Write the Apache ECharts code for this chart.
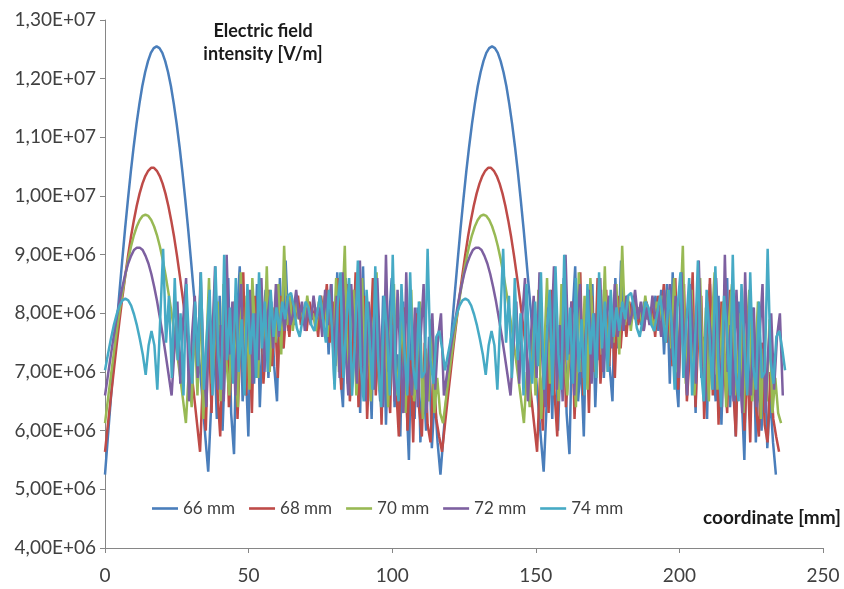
<!DOCTYPE html>
<html>
<head>
<meta charset="utf-8">
<script src="https://cdn.jsdelivr.net/npm/echarts@6/dist/echarts.min.js"></script>
<style>
html,body{margin:0;padding:0;background:#fff;}
#chart{width:844px;height:589px;}
</style>
</head>
<body>
<div id="chart"></div>
<script>
// Values in units of 1e6 V/m, sampled evenly (~1 mm) from 0 to each series' last coordinate
const seriesNames = ['66 mm', '68 mm', '70 mm', '72 mm', '74 mm'];
const lastCoordinate = [233.6, 234.7, 235.4, 236.0, 236.8];

const e66 = [
5.25,5.89,6.52,7.14,7.75,8.34,8.90,9.44,9.94,10.41,10.84,11.23,11.57,11.87,12.11,12.30,12.44,12.52,12.55,12.52,12.44,12.30,12.11,11.87,11.57,11.23,10.84,10.41,9.94,9.44,8.90,8.34,7.75,7.14,6.52,5.89,5.30,
6.4,7.6,6.2,8.3,6.0,7.4,8.6,6.3,5.6,7.9,8.8,6.5,7.2,5.9,8.1,6.8,8.5,6.4,7.7,8.4,6.9,8.2,7.1,6.5,8.6,7.4,
8.9,7.7,8.3,7.8,8.2,7.9,8.1,7.8,8.2,7.9,8.0,7.8,8.3,7.7,8.4,7.3,8.5,
6.8,8.7,7.0,6.4,8.6,7.5,6.6,8.4,7.9,6.3,8.8,6.9,7.6,6.2,8.5,7.2,6.5,8.3,6.1,7.8,8.6,6.4,7.3,5.9,8.2,6.7,5.5,7.9,6.2,8.1,5.8,7.0,6.0,7.6,5.7,6.6,5.8,
5.25,5.89,6.52,7.14,7.75,8.34,8.90,9.44,9.94,10.41,10.84,11.23,11.57,11.87,12.11,12.30,12.44,12.52,12.55,12.52,12.44,12.30,12.11,11.87,11.57,11.23,10.84,10.41,9.94,9.44,8.90,8.34,7.75,7.14,6.52,5.89,5.30,
6.4,7.6,6.2,8.3,6.0,7.4,8.6,6.3,5.6,7.9,8.8,6.5,7.2,5.9,8.1,6.8,8.5,6.4,7.7,8.4,6.9,8.2,7.1,6.5,8.6,7.4,
8.9,7.7,8.3,7.8,8.2,7.9,8.1,7.8,8.2,7.9,8.0,7.8,8.3,7.7,8.4,7.3,8.5,
6.8,8.7,7.0,6.4,8.6,7.5,6.6,8.4,7.9,6.3,8.8,6.9,7.6,6.2,8.5,7.2,6.5,8.3,6.1,7.8,8.6,6.4,7.3,5.9,8.2,6.7,5.5,7.9,6.2,8.1,5.8,7.0,6.0,7.6,5.7,6.6,5.8,
5.25
];

const e68 = [
5.64,6.10,6.56,7.00,7.44,7.86,8.26,8.63,8.98,9.30,9.58,9.83,10.04,10.21,10.34,10.43,10.48,10.48,10.43,10.34,10.21,10.04,9.83,9.58,9.30,8.98,8.63,8.26,7.86,7.44,7.00,6.56,6.10,5.64,
6.9,6.0,7.8,6.3,8.4,6.7,5.9,7.7,8.5,6.4,7.1,8.2,6.2,7.5,8.7,6.6,7.9,6.3,8.3,7.0,8.6,6.8,7.6,8.4,7.1,8.0,6.9,8.3,7.4,
8.1,7.6,8.2,7.9,8.3,7.8,8.0,7.7,8.2,7.9,8.1,7.6,8.3,7.9,8.5,7.5,8.2,
7.1,8.6,6.7,7.8,8.5,6.5,7.3,8.7,6.4,7.7,8.3,6.2,7.4,8.6,6.6,7.9,6.1,8.2,7.0,6.3,8.4,6.8,5.9,7.6,8.1,6.0,7.2,5.8,8.0,6.4,5.9,7.5,6.1,5.8,7.0,6.2,5.9,
5.64,6.10,6.56,7.00,7.44,7.86,8.26,8.63,8.98,9.30,9.58,9.83,10.04,10.21,10.34,10.43,10.48,10.48,10.43,10.34,10.21,10.04,9.83,9.58,9.30,8.98,8.63,8.26,7.86,7.44,7.00,6.56,6.10,5.64,
6.9,6.0,7.8,6.3,8.4,6.7,5.9,7.7,8.5,6.4,7.1,8.2,6.2,7.5,8.7,6.6,7.9,6.3,8.3,7.0,8.6,6.8,7.6,8.4,7.1,8.0,6.9,8.3,7.4,
8.1,7.6,8.2,7.9,8.3,7.8,8.0,7.7,8.2,7.9,8.1,7.6,8.3,7.9,8.5,7.5,8.2,
7.1,8.6,6.7,7.8,8.5,6.5,7.3,8.7,6.4,7.7,8.3,6.2,7.4,8.6,6.6,7.9,6.1,8.2,7.0,6.3,8.4,6.8,5.9,7.6,8.1,6.0,7.2,5.8,8.0,6.4,5.9,7.5,6.1,5.8,7.0,6.2,5.9,
5.64
];

const e70 = [
6.13,6.53,6.92,7.30,7.67,8.02,8.34,8.64,8.91,9.14,9.33,9.48,9.59,9.66,9.68,9.66,9.59,9.48,9.33,9.14,8.91,8.64,8.34,8.02,7.67,7.30,6.92,6.53,6.13,
7.0,6.4,7.9,6.6,8.4,6.2,7.3,8.6,6.8,7.5,8.2,6.5,8.5,7.2,6.6,8.0,7.4,6.4,8.7,7.0,8.3,6.7,8.6,7.6,6.9,8.4,7.3,8.8,7.0,8.1,7.5,8.5,7.3,9.15,
7.8,8.3,7.7,8.2,7.9,8.1,7.8,8.3,7.9,8.0,7.7,8.2,7.9,8.3,7.6,8.4,7.4,
8.6,7.0,7.9,9.15,6.8,7.7,8.4,6.6,7.5,8.6,6.9,8.1,6.5,7.8,8.7,6.7,7.3,8.2,6.4,7.9,8.5,6.6,7.2,8.0,6.3,7.6,8.4,6.5,7.1,8.2,6.2,7.4,6.5,7.9,6.3,6.9,6.3,
6.13,6.53,6.92,7.30,7.67,8.02,8.34,8.64,8.91,9.14,9.33,9.48,9.59,9.66,9.68,9.66,9.59,9.48,9.33,9.14,8.91,8.64,8.34,8.02,7.67,7.30,6.92,6.53,6.13,
7.0,6.4,7.9,6.6,8.4,6.2,7.3,8.6,6.8,7.5,8.2,6.5,8.5,7.2,6.6,8.0,7.4,6.4,8.7,7.0,8.3,6.7,8.6,7.6,6.9,8.4,7.3,8.8,7.0,8.1,7.5,8.5,7.3,9.15,
7.8,8.3,7.7,8.2,7.9,8.1,7.8,8.3,7.9,8.0,7.7,8.2,7.9,8.3,7.6,8.4,7.4,
8.6,7.0,7.9,9.15,6.8,7.7,8.4,6.6,7.5,8.6,6.9,8.1,6.5,7.8,8.7,6.7,7.3,8.2,6.4,7.9,8.5,6.6,7.2,8.0,6.3,7.6,8.4,6.5,7.1,8.2,6.2,7.4,6.5,7.9,6.3,6.9,6.3,
6.13
];

const e72 = [
6.60,6.94,7.28,7.61,7.91,8.20,8.45,8.67,8.85,8.98,9.08,9.12,9.12,9.08,8.98,8.85,8.67,8.45,8.20,7.91,7.61,7.28,6.94,6.60,
7.4,8.2,6.8,7.9,8.6,6.5,7.6,8.3,6.9,8.7,7.2,6.4,8.1,7.5,8.8,6.7,7.8,6.5,9.0,7.3,8.2,6.6,7.9,8.5,6.9,7.7,8.4,6.8,8.0,7.2,8.6,7.0,7.9,8.3,7.4,8.5,7.6,8.1,7.7,
8.3,7.8,8.0,8.4,7.9,8.2,7.7,8.1,7.8,8.3,7.9,8.1,7.6,8.4,7.8,8.5,7.2,
8.3,6.9,8.7,7.4,6.6,8.5,7.6,6.8,8.9,7.1,6.5,8.2,7.7,6.7,8.6,7.3,6.4,9.0,7.0,7.8,6.5,8.4,7.2,6.3,8.7,7.0,6.6,8.1,6.4,7.6,8.5,6.3,7.4,8.0,6.7,7.6,8.0,
6.60,6.94,7.28,7.61,7.91,8.20,8.45,8.67,8.85,8.98,9.08,9.12,9.12,9.08,8.98,8.85,8.67,8.45,8.20,7.91,7.61,7.28,6.94,6.60,
7.4,8.2,6.8,7.9,8.6,6.5,7.6,8.3,6.9,8.7,7.2,6.4,8.1,7.5,8.8,6.7,7.8,6.5,9.0,7.3,8.2,6.6,7.9,8.5,6.9,7.7,8.4,6.8,8.0,7.2,8.6,7.0,7.9,8.3,7.4,8.5,7.6,8.1,7.7,
8.3,7.8,8.0,8.4,7.9,8.2,7.7,8.1,7.8,8.3,7.9,8.1,7.6,8.4,7.8,8.5,7.2,
8.3,6.9,8.7,7.4,6.6,8.5,7.6,6.8,8.9,7.1,6.5,8.2,7.7,6.7,8.6,7.3,6.4,9.0,7.0,7.8,6.5,8.4,7.2,6.3,8.7,7.0,6.6,8.1,6.4,7.6,8.5,6.3,7.4,8.0,6.7,7.6,8.0,
6.60
];

const e74 = [
7.03,7.30,7.56,7.79,7.98,8.13,8.22,8.25,8.22,8.13,7.98,7.79,7.56,7.30,6.95,
7.45,7.70,7.45,6.70,7.90,9.10,7.50,8.30,6.90,8.60,7.20,8.00,6.60,8.50,7.40,6.80,8.20,7.10,8.70,6.70,7.60,8.40,6.60,8.80,7.30,6.70,9.00,7.20,8.10,6.80,8.60,7.00,7.90,6.60,8.50,7.30,8.00,6.90,8.70,7.40,8.20,7.00,8.40,7.60,8.10,7.70,8.20,7.90,
8.30,8.35,8.10,7.75,7.60,7.90,8.20,8.10,7.80,7.70,8.00,8.30,7.90,7.50,8.40,7.80,6.70,
8.1,8.7,6.9,7.8,8.6,6.6,7.5,8.9,7.1,6.5,8.4,7.6,6.7,8.8,7.2,6.4,8.3,7.7,6.6,9.0,7.0,6.5,8.5,7.4,6.6,8.7,7.1,6.7,8.2,6.9,7.0,9.1,7.2,6.8,7.6,7.7,7.4,
7.03,7.30,7.56,7.79,7.98,8.13,8.22,8.25,8.22,8.13,7.98,7.79,7.56,7.30,6.95,
7.45,7.70,7.45,6.70,7.90,9.10,7.50,8.30,6.90,8.60,7.20,8.00,6.60,8.50,7.40,6.80,8.20,7.10,8.70,6.70,7.60,8.40,6.60,8.80,7.30,6.70,9.00,7.20,8.10,6.80,8.60,7.00,7.90,6.60,8.50,7.30,8.00,6.90,8.70,7.40,8.20,7.00,8.40,7.60,8.10,7.70,8.20,7.90,
8.30,8.35,8.10,7.75,7.60,7.90,8.20,8.10,7.80,7.70,8.00,8.30,7.90,7.50,8.40,7.80,6.70,
8.1,8.7,6.9,7.8,8.6,6.6,7.5,8.9,7.1,6.5,8.4,7.6,6.7,8.8,7.2,6.4,8.3,7.7,6.6,9.0,7.0,6.5,8.5,7.4,6.6,8.7,7.1,6.7,8.2,6.9,7.0,9.1,7.2,6.8,7.6,7.7,7.4,
7.03
];

const xTicks = [0, 50, 100, 150, 200, 250];
const yTicks = [4, 5, 6, 7, 8, 9, 10, 11, 12, 13];
const seriesValues = [e66, e68, e70, e72, e74];
const colors = ['#4a7ebb', '#be4b48', '#98b954', '#7d60a0', '#46aac5'];

function sciLabel(v) {
  const val = v * 1e6;
  const e = Math.floor(Math.log10(val) + 1e-9);
  const m = val / Math.pow(10, e);
  return m.toFixed(2).replace('.', ',') + 'E+' + String(e).padStart(2, '0');
}

const FONT = 'Lato';
const chart = echarts.init(document.getElementById('chart'), null, {renderer: 'canvas'});
chart.setOption({
  animation: false,
  backgroundColor: '#ffffff',
  color: colors,
  title: {
    text: 'Electric field\nintensity [V/m]',
    left: 258,
    top: 15,
    textAlign: 'center',
    textStyle: {fontFamily: FONT, fontWeight: 'bold', fontSize: 18, color: '#1a1a1a', lineHeight: 23}
  },
  legend: {
    data: seriesNames,
    icon: 'path://M0,0H30V3H0Z',
    left: 147,
    top: 495,
    itemWidth: 26,
    itemHeight: 3,
    itemGap: 14,
    textStyle: {fontFamily: FONT, fontSize: 17, color: '#404040'}
  },
  graphic: [{
    type: 'text',
    right: 3,
    top: 508,
    style: {text: 'coordinate [mm]', font: 'bold 19px Lato', fill: '#1a1a1a'}
  }],
  grid: {left: 105, right: 21, top: 20, bottom: 41, containLabel: false},
  xAxis: {
    type: 'value',
    min: xTicks[0],
    max: xTicks[xTicks.length - 1],
    interval: xTicks[1] - xTicks[0],
    axisLine: {lineStyle: {color: '#868686', width: 1}},
    axisTick: {show: true, length: 5, lineStyle: {color: '#868686'}},
    axisLabel: {fontFamily: FONT, fontSize: 19, color: '#404040', margin: 18},
    splitLine: {show: false}
  },
  yAxis: {
    type: 'value',
    min: yTicks[0],
    max: yTicks[yTicks.length - 1],
    interval: yTicks[1] - yTicks[0],
    axisLine: {show: true, lineStyle: {color: '#868686', width: 1}},
    axisTick: {show: true, length: 5, lineStyle: {color: '#868686'}},
    axisLabel: {fontFamily: FONT, fontSize: 19, color: '#404040', margin: 9, formatter: sciLabel},
    splitLine: {show: false}
  },
  series: seriesValues.map((vals, j) => ({
    name: seriesNames[j],
    type: 'line',
    symbol: 'none',
    showSymbol: false,
    smooth: false,
    lineStyle: {width: 2.5, color: colors[j]},
    data: vals.map((v, i) => [i * lastCoordinate[j] / (vals.length - 1), v])
  }))
});
</script>
</body>
</html>
